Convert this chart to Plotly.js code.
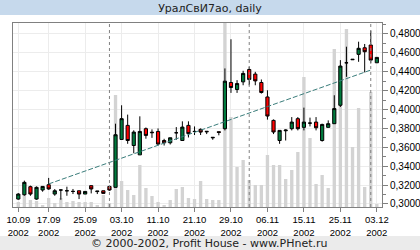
<!DOCTYPE html>
<html>
<head>
<meta charset="utf-8">
<script src="https://cdn.plot.ly/plotly-3.0.1.min.js"></script>
<style>
html,body{margin:0;padding:0;background:#fff;}
#chart{width:420px;height:250px;}
</style>
</head>
<body>
<div id="chart"></div>
<script>
// trading days (dd.mm, 2002)
const dates = ['10.09','11.09','12.09','13.09','16.09','17.09','18.09','19.09','20.09','23.09',
  '24.09','25.09','26.09','27.09','30.09','01.10','02.10','03.10','04.10','07.10',
  '08.10','09.10','10.10','11.10','14.10','15.10','16.10','17.10','18.10','21.10',
  '22.10','23.10','24.10','25.10','28.10','29.10','30.10','31.10','01.11','04.11',
  '05.11','06.11','08.11','11.11','12.11','13.11','14.11','15.11','18.11','19.11',
  '20.11','21.11','22.11','25.11','26.11','27.11','28.11','29.11','02.12','03.12'];

const openP  = [0.3052,0.3098,0.3183,0.3052,0.3148,0.3204,0.3105,0.3148,0.3140,0.3133,
  0.3140,0.3105,0.3194,0.3131,0.3140,0.3186,0.3176,0.3683,0.3832,0.3619,
  0.3520,0.3797,0.3760,0.3768,0.3672,0.3648,0.3754,0.3672,0.3832,0.3768,
  0.3790,0.3770,0.3700,0.3765,0.3797,0.4286,0.4212,0.4293,0.4424,0.4375,
  0.4286,0.4133,0.3885,0.3672,0.3775,0.3797,0.3903,0.3811,0.3856,0.3867,
  0.3672,0.3811,0.3850,0.4045,0.4495,0.4533,0.4584,0.4654,0.4683,0.4495];
const highP  = [0.3115,0.3247,0.3194,0.3186,0.3190,0.3276,0.3158,0.3151,0.3183,0.3159,
  0.3140,0.3133,0.3194,0.3136,0.3140,0.3194,0.3850,0.4045,0.3946,0.3780,
  0.3928,0.3810,0.3790,0.3800,0.3690,0.3701,0.3814,0.3875,0.3875,0.3821,
  0.3800,0.3772,0.3705,0.3765,0.4435,0.4744,0.4311,0.4410,0.4453,0.4399,
  0.4318,0.4204,0.3895,0.3779,0.3790,0.3920,0.3920,0.4020,0.3914,0.3920,
  0.3850,0.3885,0.4151,0.4523,0.4665,0.4533,0.4718,0.4694,0.4835,0.4552];
const lowP   = [0.3045,0.3087,0.3087,0.3045,0.3130,0.3151,0.3087,0.3045,0.3087,0.3105,
  0.3052,0.3105,0.3112,0.3105,0.3112,0.3140,0.3176,0.3683,0.3637,0.3537,
  0.3520,0.3691,0.3700,0.3620,0.3619,0.3630,0.3680,0.3672,0.3704,0.3730,
  0.3730,0.3740,0.3680,0.3727,0.3779,0.4176,0.4176,0.4257,0.4257,0.4257,
  0.4169,0.3893,0.3740,0.3637,0.3672,0.3779,0.3779,0.3779,0.3821,0.3779,
  0.3660,0.3811,0.3850,0.4027,0.4346,0.4528,0.4505,0.4393,0.4488,0.4495];
const closeP = [0.3105,0.3229,0.3105,0.3176,0.3186,0.3159,0.3140,0.3148,0.3140,0.3133,
  0.3105,0.3133,0.3159,0.3136,0.3112,0.3148,0.3733,0.3903,0.3672,0.3761,
  0.3768,0.3726,0.3755,0.3634,0.3648,0.3701,0.3754,0.3814,0.3745,0.3768,
  0.3761,0.3765,0.3705,0.3758,0.4300,0.4233,0.4275,0.4382,0.4318,0.4303,
  0.4180,0.3931,0.3762,0.3779,0.3782,0.3867,0.3797,0.3867,0.3856,0.3807,
  0.3842,0.3850,0.4010,0.4460,0.4495,0.4528,0.4648,0.4612,0.4523,0.4552];
const volume = [5,12,7,6,2,9,4,9,5,6,
  5,5,5,2,12,4,112,26,17,12,
  42,19,11,5,2,7,18,20,9,8,
  26,8,7,7,184,90,40,47,27,22,
  22,52,42,42,28,37,55,130,69,23,
  32,19,158,122,178,60,99,20,115,3];

const tickDates  = ['10.09','17.09','25.09','03.10','11.10','21.10','29.10','06.11','15.11','25.11','03.12'];
const tickLabels = tickDates.map(d => d + '<br>2002');
const monthStarts = ['01.10','01.11','02.12'];
const trendDates = ['17.09','02.12'];
const trendY = [0.3212, 0.4418];

const pos = d => dates.indexOf(d);
const xs = dates.map((d, i) => i);

const narrow = '"Liberation Sans Narrow", "Liberation Sans", Arial, sans-serif';

const traces = [
  {type:'bar', x:xs, y:volume, yaxis:'y', width:0.55,
   marker:{color:'#d3d3d3', line:{width:0}}, hoverinfo:'skip', showlegend:false},
  {type:'scatter', mode:'lines', x:trendDates.map(pos), y:trendY, yaxis:'y2',
   line:{color:'#3a7d7b', width:1, dash:'5px,2px'}, hoverinfo:'skip', showlegend:false},
  {type:'candlestick', x:xs, open:openP, high:highP, low:lowP, close:closeP, yaxis:'y2',
   text:dates,
   increasing:{line:{color:'#000', width:1}, fillcolor:'#007a3d'},
   decreasing:{line:{color:'#000', width:1}, fillcolor:'#ff0000'},
   whiskerwidth:0, showlegend:false}
];

const shapes = [
  {type:'rect', xref:'paper', yref:'paper', x0:-0.06, x1:1.15, y0:1.0435, y1:1.2,
   fillcolor:'#c6d9ec', line:{width:0}, layer:'below'},
  {type:'rect', xref:'paper', yref:'paper', x0:-0.06, x1:1.15, y0:-0.26, y1:-0.1576,
   fillcolor:'#ebebeb', line:{width:0}, layer:'below'}
];
monthStarts.forEach(d => shapes.push({type:'line', xref:'x', yref:'paper', x0:pos(d), x1:pos(d), y0:0, y1:1,
  line:{color:'#808080', width:1, dash:'3px,3px'}, layer:'above'}));

const layout = {
  width:420, height:250,
  margin:{l:13, r:38, t:23, b:43, pad:0},
  paper_bgcolor:'#ffffff', plot_bgcolor:'#ffffff',
  separators:', ',
  showlegend:false,
  boxgap:0.25,
  title:{text:'УралСвИ7ао, daily', x:0.5, xref:'container', y:1-8.5/250, yref:'container',
    yanchor:'middle', xanchor:'center', font:{family:'"DejaVu Sans", Verdana, sans-serif', size:11, color:'#222'}},
  xaxis:{type:'linear', range:[-0.87, 59.85], tickmode:'array', tickvals:tickDates.map(pos), ticktext:tickLabels,
    showgrid:true, gridcolor:'#ececec', gridwidth:1, zeroline:false,
    showline:true, linecolor:'#808080', linewidth:1, mirror:true,
    ticks:'outside', ticklen:4, tickcolor:'#808080',
    tickfont:{family:narrow, size:9.5, color:'#000'}, tickangle:0,
    rangeslider:{visible:false}, fixedrange:true},
  yaxis:{range:[0,184], visible:false, showgrid:false, fixedrange:true},
  yaxis2:{overlaying:'y', side:'right', range:[0.2968, 0.4916],
    tick0:0.30, dtick:0.02, tickformat:'.4f',
    showgrid:true, gridcolor:'#ececec', gridwidth:1,
    showline:true, linecolor:'#808080', linewidth:1, mirror:true,
    ticks:'outside', ticklen:5, tickcolor:'#808080',
    minor:{dtick:0.01, ticks:'outside', ticklen:3, tickcolor:'#808080', showgrid:false},
    tickfont:{family:narrow, size:10, color:'#000'}, fixedrange:true, zeroline:false},
  shapes:shapes,
  annotations:[{text:'© 2000-2002, Profit House - www.PHnet.ru', xref:'paper', yref:'paper',
    x:(209-13)/369, y:(207-243)/184, xanchor:'center', yanchor:'middle', showarrow:false,
    font:{family:'"DejaVu Sans", Verdana, sans-serif', size:11, color:'#222'}}]
};

Plotly.newPlot('chart', traces, layout, {staticPlot:true, displayModeBar:false});
</script>
</body>
</html>
